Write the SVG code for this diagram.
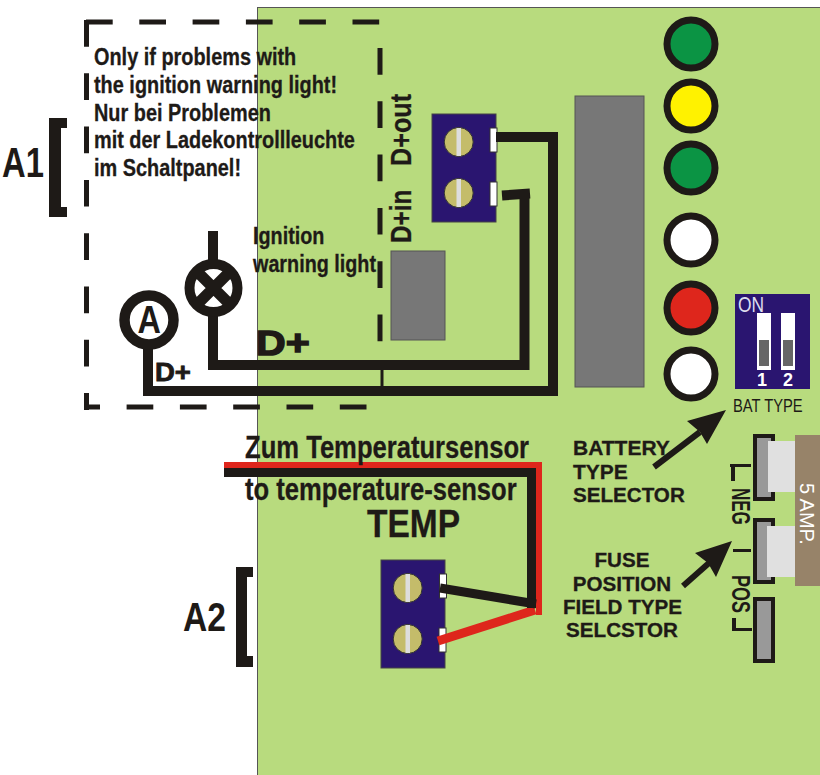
<svg xmlns="http://www.w3.org/2000/svg" width="820" height="775" viewBox="0 0 820 775">
<style>
.t{font-family:"Liberation Sans",Arial,sans-serif;font-weight:bold;fill:#1e1a17}
.n{font-family:"Liberation Sans",Arial,sans-serif}
.s{stroke:#1e1a17;stroke-width:.3}
.w{fill:none;stroke:#1e1a17;stroke-width:10}
.d{fill:none;stroke:#1e1a17;stroke-width:5;stroke-dasharray:26.700 26.600}
.blk{fill:#2a1570;stroke:#444;stroke-width:1}
.led{stroke:#1e1a17;stroke-width:7}
.scr{fill:#c4bc6a;stroke:#333;stroke-width:1}
.slot{fill:#ddd}
.pin{fill:#fff;stroke:#333;stroke-width:1}
.fz{fill:#999;stroke:#1e1a17;stroke-width:4}
.fb{fill:#e0e0e0}
.k{fill:#1e1a17}
</style>
<rect width="820" height="775" fill="#fff"/>
<rect id="board" x="257.500" y="7.500" width="570" height="780" fill="#b8db7e" stroke="#555" stroke-width="1"/>
<g id="a1-box">
<path class="d" d="M86 22H380"/>
<path class="d" d="M86.500 20V410"/>
<path class="d" d="M86 407H370" stroke-dashoffset="12.700"/>
<path class="d" d="M380 48V345"/>
</g>
<g id="ic1"><rect x="575" y="96" width="69" height="291" fill="#777" stroke="#555"/></g>
<g id="ic2"><rect x="391" y="251" width="54" height="89" fill="#777" stroke="#555"/></g>
<g id="led1"><circle class="led" cx="691" cy="44" r="24" fill="#0b9444"/></g>
<g id="led2"><circle class="led" cx="691" cy="106" r="24" fill="#fff200"/></g>
<g id="led3"><circle class="led" cx="691" cy="168" r="24" fill="#0b9444"/></g>
<g id="led4"><circle class="led" cx="691" cy="240" r="24" fill="#fff"/></g>
<g id="led5"><circle class="led" cx="691" cy="308" r="24" fill="#de261c"/></g>
<g id="led6"><circle class="led" cx="691" cy="374" r="24" fill="#fff"/></g>
<g id="terminal-d">
<rect class="blk" x="432" y="114" width="64" height="108"/>
<rect class="pin" x="490" y="128" width="7" height="24"/><rect class="pin" x="490" y="182" width="7" height="24"/>
<circle class="scr" cx="458.700" cy="142" r="14.500"/><rect class="slot" x="456.500" y="128" width="4.500" height="28"/>
<circle class="scr" cx="458.700" cy="193" r="14.500"/><rect class="slot" x="456.500" y="179" width="4.500" height="28"/>
</g>
<g id="terminal-temp">
<rect class="blk" x="381" y="560" width="64" height="108"/>
<rect class="pin" x="439.500" y="574" width="7" height="24"/><rect class="pin" x="439" y="628" width="7" height="24"/>
<circle class="scr" cx="407.700" cy="588" r="14.500"/><rect class="slot" x="405.500" y="574" width="4.500" height="28"/>
<circle class="scr" cx="407.700" cy="639" r="14.500"/><rect class="slot" x="405.500" y="625" width="4.500" height="28"/>
</g>
<g id="connectors">
<path class="w" d="M496 137H553V391H148V347"/>
<path class="w" d="M502 195.500L530 193.500"/>
<path class="w" d="M524.500 193V365H213V311"/>
<path class="w" d="M213 231V262"/>
<path d="M382 370V387" fill="none" stroke="#1e1a17" stroke-width="3"/>
<path d="M224 465H539V615" fill="none" stroke="#de261c" stroke-width="6"/>
<path d="M438 641L535 610" fill="none" stroke="#de261c" stroke-width="9"/>
<path d="M224 472.500H531.500V608" fill="none" stroke="#1e1a17" stroke-width="9"/>
<path d="M440 588L536 604" fill="none" stroke="#1e1a17" stroke-width="9"/>
<path d="M654 467L700 432" fill="none" stroke="#1e1a17" stroke-width="6"/>
<polygon class="k" points="726,410 707,444 700,432 687,421"/>
<path d="M683 586L709 563" fill="none" stroke="#1e1a17" stroke-width="6"/>
<polygon class="k" points="732,541 716,577 708,563 695,553"/>
</g>
<g id="lamp"><circle cx="213.500" cy="288" r="24" fill="#fff" stroke="#1e1a17" stroke-width="10"/><path d="M196 270.500L231 305.500M231 270.500L196 305.500" stroke="#1e1a17" stroke-width="11"/></g>
<g id="ammeter"><circle cx="149" cy="320" r="24.500" fill="#fff" stroke="#1e1a17" stroke-width="10.500"/><text class="t" font-size="39" transform="translate(137.500 333) scale(.83 1)">A</text></g>
<g id="dip">
<rect x="735" y="294" width="75" height="95" fill="#2a1570"/>
<rect x="757" y="313" width="14" height="57" fill="#fff"/><rect x="781" y="313" width="14" height="57" fill="#fff"/>
<rect x="759" y="340" width="10" height="26" fill="#666"/><rect x="783" y="340" width="10" height="26" fill="#666"/>
<text class="n" font-size="22" fill="#dde" transform="translate(738 312) scale(.79 1)">ON</text>
<text class="n" x="762" y="386" font-weight="bold" font-size="18" fill="#fff" text-anchor="middle">1</text>
<text class="n" x="788" y="386" font-weight="bold" font-size="18" fill="#fff" text-anchor="middle">2</text>
</g>
<g id="fuse">
<rect class="fz" x="755" y="436" width="18" height="63"/><rect class="fz" x="755" y="520" width="18" height="62"/><rect class="fz" x="755" y="599" width="18" height="62"/>
<rect class="fb" x="768" y="441" width="30" height="51"/><rect class="fb" x="767" y="526" width="30" height="51"/>
<rect x="795" y="435" width="25" height="151" fill="#978369"/>
<text class="n" transform="translate(800 483) rotate(90)" font-size="20" fill="#fff">5 AMP.</text>
</g>
<g id="labels">
<text class="t s" font-size="23" transform="translate(94 65) scale(.865 1)">Only if problems with</text>
<text class="t s" font-size="23" transform="translate(94 93) scale(.865 1)">the ignition warning light!</text>
<text class="t s" font-size="23" transform="translate(94 120.500) scale(.865 1)">Nur bei Problemen</text>
<text class="t s" font-size="23" transform="translate(94 148) scale(.865 1)">mit der Ladekontrollleuchte</text>
<text class="t s" font-size="23" transform="translate(94 175.500) scale(.865 1)">im Schaltpanel!</text>
<text class="t s" font-size="23" transform="translate(253 243.500) scale(.86 1)">Ignition</text>
<text class="t s" font-size="23" transform="translate(253 272) scale(.86 1)">warning light</text>
<text class="t s" font-size="30" transform="translate(411 166) rotate(-90) scale(.84 1)">D+out</text>
<text class="t s" font-size="30" transform="translate(411 243) rotate(-90) scale(.81 1)">D+in</text>
<text class="t" font-size="42" transform="translate(2 177) scale(.78 1)">A1</text>
<path class="k" d="M49 118H67V128H61V207H67V217H49Z"/>
<text class="t" font-size="40" transform="translate(183 631) scale(.84 1)">A2</text>
<path class="k" d="M236 567H253V577H247V656H253V667H236Z"/>
<text class="t" font-size="36" transform="translate(256 355) scale(1.14 1)" style="stroke:#1e1a17;stroke-width:1.500">D+</text>
<text class="t" font-size="25" transform="translate(155 381) scale(1.1 1)" style="stroke:#1e1a17;stroke-width:.8">D+</text>
<text class="t s" font-size="31" transform="translate(245 458) scale(.826 1)">Zum Temperatursensor</text>
<text class="t s" font-size="31" transform="translate(245 500) scale(.826 1)">to temperature-sensor</text>
<text class="t s" font-size="39" transform="translate(367 537) scale(.86 1)">TEMP</text>
<text class="n" font-size="18" fill="#1e1a17" transform="translate(733 412) scale(.82 1)">BAT TYPE</text>
<text class="t s" font-size="20" transform="translate(573 455) scale(1.05 1)">BATTERY</text>
<text class="t s" font-size="20" transform="translate(573 479) scale(1.05 1)">TYPE</text>
<text class="t s" font-size="20" transform="translate(573 502) scale(1.03 1)">SELECTOR</text>
<text class="t s" font-size="20" transform="translate(622 567) scale(1.03 1)" text-anchor="middle">FUSE</text>
<text class="t s" font-size="20" transform="translate(622 591) scale(1.03 1)" text-anchor="middle">POSITION</text>
<text class="t s" font-size="20" transform="translate(622.500 614) scale(1.03 1)" text-anchor="middle">FIELD TYPE</text>
<text class="t s" font-size="20" transform="translate(622 637) scale(1.03 1)" text-anchor="middle">SELCSTOR</text>
<text class="t" font-size="25" transform="translate(732 488) rotate(90) scale(.68 1)">NEG</text>
<text class="t" font-size="25" transform="translate(732 575) rotate(90) scale(.72 1)">POS</text>
<path class="k" d="M730 464H751V467H735V481H731V467H730ZM733 549H751V552H733ZM732 618H736V628H752V631H732Z"/>
</g>
</svg>
